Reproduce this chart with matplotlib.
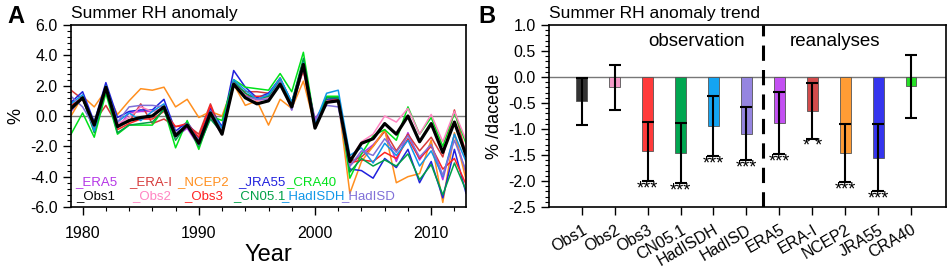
import matplotlib.pyplot as plt
import numpy as np
from matplotlib.ticker import MultipleLocator

# Years of the anomaly series
years = np.arange(1979, 2014)

# Summer RH anomaly (%)
era5 = [0.3, 1.2, -0.8, 1.8, -0.8, 0.2, 0.3, 0.3, 0.5, -1.4, -0.8, -2.0, -0.1, -1.2, 2.2, 1.5, 1.0, 1.2,
        2.3, 0.4, 3.3, -0.2, 1.0, 1.1, -3.3, -2.5, -1.9, -1.0, -3.0, -1.1, -2.9, -1.8, -4.2, -1.2, -3.8]
erai = [1.7, 1.1, -0.4, 0.7, -0.6, -0.4, 0.8, -0.5, -0.2, -0.7, -0.6, -1.2, 0.8, -1.1, 2.0, 1.6, 1.6, 1.5,
        2.3, 0.7, 3.2, -0.8, 1.0, 1.2, -3.0, -2.7, -2.0, -1.0, -2.3, -1.2, -2.3, -1.4, -2.7, 0.4, -2.5]
ncep2 = [0.0, 1.3, 0.6, 1.7, 0.1, 1.0, 1.8, 1.7, 1.9, 0.6, 1.1, -0.1, 0.3, 0.0, 2.1, 0.7, 1.0, -0.6,
         1.1, 0.5, 2.3, -0.7, 1.0, 1.0, -5.1, -3.0, -2.0, -0.9, -4.4, -4.0, -3.8, -1.6, -5.7, -1.1, -4.2]
jra55 = [0.9, 1.6, -0.4, 2.2, -0.1, 0.3, 0.4, 0.4, 1.1, -1.0, -0.4, -1.5, 0.5, -0.7, 3.0, 1.9, 1.2, 1.5,
         2.5, 0.9, 3.5, -0.7, 1.1, 1.2, -3.5, -3.6, -4.1, -2.8, -3.4, -2.2, -4.4, -3.0, -5.4, -2.2, -5.1]
cra40 = [-1.2, 0.2, -1.4, 1.5, -1.2, -0.6, -0.6, -0.6, 0.5, -2.1, -0.3, -2.2, 0.0, -0.3, 2.4, 1.9, 1.8, 1.7,
         2.8, 1.6, 4.2, -0.5, 1.3, 1.3, -4.1, -2.5, -1.3, -0.9, -1.6, 0.6, -1.2, -0.1, -2.0, 0.2, -1.8]
obs1 = [0.5, 1.2, -0.6, 1.9, -0.7, -0.3, -0.1, 0.0, 0.6, -1.3, -0.6, -1.8, 0.2, -1.2, 2.1, 1.2, 0.8, 1.0,
        2.1, 0.6, 3.4, -0.8, 0.9, 1.0, -3.0, -1.8, -1.5, -0.5, -1.2, 0.0, -1.7, -0.5, -2.4, -0.4, -2.6]
obs2 = [0.6, 1.1, -0.5, 1.8, -0.5, -0.1, 0.6, 0.3, 0.5, -1.1, -0.7, -1.6, 0.2, -1.0, 2.1, 1.4, 1.0, 1.2,
        2.2, 0.5, 3.2, -0.6, 1.0, 1.0, -2.9, -1.7, -1.2, 0.0, -0.4, 0.5, -1.2, 0.1, -1.7, 0.3, -1.6]
obs3 = [0.7, 1.2, -0.9, 1.8, -0.9, -0.5, -0.2, -0.2, 0.3, -0.7, -0.5, -1.4, 0.7, -1.2, 2.1, 1.3, 1.3, 1.3,
        2.5, 0.7, 3.0, -0.8, 0.9, 1.1, -3.1, -2.9, -3.0, -2.4, -2.8, -1.5, -2.8, -2.0, -3.5, -2.8, -4.5]
cn051 = [0.4, 1.2, -1.1, 1.7, -1.1, -0.6, -0.5, -0.4, 0.4, -1.6, -0.5, -2.0, -0.2, -1.1, 2.3, 1.5, 1.1, 1.3,
         2.4, 0.9, 3.8, -0.6, 1.2, 1.2, -3.7, -2.8, -3.3, -2.9, -3.3, -2.5, -4.2, -3.2, -5.2, -3.1, -4.9]
hadisdh = [0.8, 1.4, -1.0, 2.0, -0.4, 0.2, -0.3, 0.3, 0.8, -1.2, -0.5, -1.7, 0.3, -0.8, 2.4, 1.7, 1.1, 1.4,
           2.5, 0.9, 3.5, -0.5, 1.5, 1.7, -2.6, -2.1, -3.1, -1.8, -2.6, -1.6, -3.3, -2.3, -4.0, -1.2, -3.0]
hadisd = [1.3, 0.6, -0.7, 1.9, -0.4, 0.6, 0.7, 0.7, 0.6, -1.3, -0.6, -1.9, 0.2, -1.0, 2.2, 1.3, 1.1, 1.1,
          2.3, 0.4, 3.2, -0.3, 0.7, 0.6, -3.3, -2.3, -2.6, -1.5, -2.4, -1.3, -2.7, -1.9, -3.9, -1.6, -3.6]

# Trend (% / decade) and error range
datasets = ['Obs1', 'Obs2', 'Obs3', 'CN05.1', 'HadISDH', 'HadISD', 'ERA5', 'ERA-I', 'NCEP2', 'JRA55', 'CRA40']
trend = [-0.47, -0.20, -1.43, -1.46, -0.94, -1.09, -0.88, -0.65, -1.46, -1.55, -0.18]
err = [0.46, 0.43, 0.57, 0.58, 0.57, 0.51, 0.60, 0.54, 0.55, 0.64, 0.61]
signif = ['', '', '***', '***', '***', '***', '***', '* *', '***', '***', '']

colors = {'ERA5': '#b535e6', 'ERA-I': '#d63a3a', 'NCEP2': '#ff8f1f', 'JRA55': '#2020dd',
          'CRA40': '#00e21a', 'Obs1': 'black', 'Obs2': '#ff85c2', 'Obs3': '#ff2222',
          'CN05.1': '#00a047', 'HadISDH': '#0f96e8', 'HadISD': '#8070d8'}
bar_colors = {'Obs1': '#333333', 'Obs2': '#f59ac8', 'Obs3': '#ff3a3a', 'CN05.1': '#00a650',
              'HadISDH': '#14a4f2', 'HadISD': '#9585e0', 'ERA5': '#c350f2', 'ERA-I': '#d24c4c',
              'NCEP2': '#ff9c35', 'JRA55': '#3535ee', 'CRA40': '#26e026'}

series = {'ERA5': era5, 'ERA-I': erai, 'NCEP2': ncep2, 'JRA55': jra55, 'CRA40': cra40,
          'Obs2': obs2, 'Obs3': obs3, 'CN05.1': cn051, 'HadISDH': hadisdh, 'HadISD': hadisd,
          'Obs1': obs1}

plt.rcParams['font.family'] = 'Liberation Sans'

fig = plt.figure(figsize=(9.48, 2.69), dpi=100)

# ---- panel A ----
ax = fig.add_axes([0.0749, 0.2305, 0.4167, 0.6766])
ax.axhline(0, color='#777777', lw=1.0)
for name, vals in series.items():
    lw = 2.3 if name == 'Obs1' else 1.1
    ax.plot(years, vals, color=colors[name], lw=lw, zorder=3 if name == 'Obs1' else 2)

ax.set_xlim(1979, 2013)
ax.set_ylim(-6, 6)
ax.xaxis.set_major_locator(MultipleLocator(10))
ax.xaxis.set_minor_locator(MultipleLocator(2))
ax.yaxis.set_major_locator(MultipleLocator(2))
ax.yaxis.set_minor_locator(MultipleLocator(0.4))
ax.set_yticklabels([f'{v:.1f}' for v in ax.get_yticks()])
ax.tick_params(which='major', length=6, width=1, labelsize=11.5, direction='out')
ax.tick_params(which='minor', length=3, width=0.8, direction='out')
ax.tick_params(axis='x', pad=8)
ax.set_xlabel('Year', fontsize=17, labelpad=2)
ax.set_ylabel('%', fontsize=13)
ax.set_title('Summer RH anomaly', loc='left', fontsize=12.5, pad=5)
for s in ax.spines.values():
    s.set_linewidth(1.2)

# legend as coloured text, laid out like the original
row1 = ['ERA5', 'ERA-I', 'NCEP2', 'JRA55', 'CRA40']
row1_x = [0.01, 0.148, 0.27, 0.422, 0.544]
row2 = ['Obs1', 'Obs2', 'Obs3', 'CN05.1', 'HadISDH', 'HadISD']
row2_x = [0.013, 0.155, 0.286, 0.41, 0.531, 0.683]
for lab, x in zip(row1, row1_x):
    ax.text(x, 0.135, '_' + lab, color=colors[lab], fontsize=9.5, transform=ax.transAxes, va='center')
for lab, x in zip(row2, row2_x):
    ax.text(x, 0.058, '_' + lab, color=colors[lab], fontsize=9.5, transform=ax.transAxes, va='center')

fig.text(0.008, 0.915, 'A', fontsize=17, fontweight='bold')

# ---- panel B ----
bx = fig.add_axes([0.579, 0.2305, 0.4188, 0.6766])
xpos = np.arange(len(datasets))
bx.axhline(0, color='#777777', lw=1.0)
bx.bar(xpos, trend, width=0.33, color=[bar_colors[d] for d in datasets],
       edgecolor='#555555', linewidth=0.6, zorder=2)
bx.errorbar(xpos, trend, yerr=err, fmt='none', ecolor='black', elinewidth=1.5,
            capsize=4, capthick=1.5, zorder=3)
for x, t, e, s in zip(xpos, trend, err, signif):
    if s:
        bx.text(x, t - e + 0.01, s, ha='center', va='top', fontsize=13)

bx.axvline(5.5, color='black', lw=2.2, ls=(0, (5, 3)))
bx.text(3.5, 0.68, 'observation', ha='center', va='center', fontsize=13.5)
bx.text(7.7, 0.68, 'reanalyses', ha='center', va='center', fontsize=13.5)

bx.set_xlim(-1, 11.06)
bx.set_ylim(-2.5, 1.0)
bx.set_xticks(xpos)
bx.set_xticklabels(datasets, rotation=30, ha='right', rotation_mode='anchor', fontsize=11.5)
bx.yaxis.set_major_locator(MultipleLocator(0.5))
bx.yaxis.set_minor_locator(MultipleLocator(0.1))
bx.set_yticklabels([f'{v:.1f}' for v in bx.get_yticks()])
bx.tick_params(which='major', length=6, width=1, labelsize=11.5, direction='out')
bx.tick_params(which='minor', length=3, width=0.8, direction='out')
bx.tick_params(axis='x', pad=5)
bx.set_ylabel('% /dacede', fontsize=13)
bx.set_title('Summer RH anomaly trend', loc='left', fontsize=12.5, pad=5)
for s in bx.spines.values():
    s.set_linewidth(1.2)

fig.text(0.505, 0.915, 'B', fontsize=17, fontweight='bold')

fig.savefig('out.png', dpi=100)
